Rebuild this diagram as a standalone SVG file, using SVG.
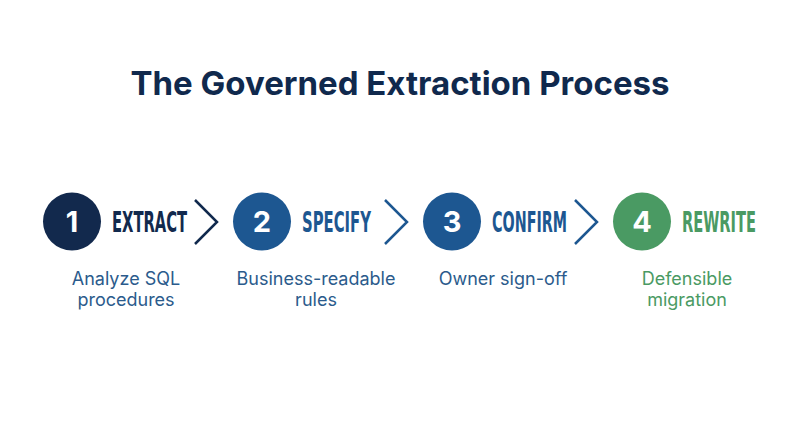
<svg xmlns="http://www.w3.org/2000/svg" width="800" height="445" viewBox="0 0 800 445">
<style>
.title{font-family:Inter,"Open Sans","Liberation Sans",sans-serif;font-weight:700;font-size:33px;fill:#10294d;text-anchor:middle}
.num{font-family:Inter,"Liberation Sans",sans-serif;font-weight:700;font-size:29px;fill:#ffffff;text-anchor:middle}
.lbl{font-family:"DejaVu Sans Condensed","Liberation Sans",sans-serif;font-stretch:condensed;font-weight:700;font-size:22px}
.sub{font-family:Inter,"Liberation Sans",sans-serif;font-size:18px;text-anchor:middle}
.chev{fill:none;stroke:#10294d;stroke-width:2.5}
.chevb{stroke:#1d5791}
.navy{fill:#12294d}
.blue{fill:#1d5791}
.green{fill:#4a9a63}
.subblue{fill:#2b5b8c}
</style>
<rect width="800" height="445" fill="#ffffff"/>
<text class="title" x="400" y="95">The Governed Extraction Process</text>
<g id="connectors">
<polyline class="chev" points="195,200 217,222 195,244"/>
<polyline class="chev chevb" points="385,200 407,222 385,244"/>
<polyline class="chev chevb" points="575,200 597,222 575,244"/>
</g>
<g id="step1">
<circle class="navy" cx="72" cy="221.5" r="29"/>
<text class="num" x="72" y="232">1</text>
<text class="lbl navy" transform="translate(112,231.5) scale(1,1.27)" textLength="75" lengthAdjust="spacingAndGlyphs">EXTRACT</text>
<text class="sub subblue" x="126" y="285">Analyze SQL</text>
<text class="sub subblue" x="126" y="306">procedures</text>
</g>
<g id="step2">
<circle class="blue" cx="262" cy="221.5" r="29"/>
<text class="num" x="262" y="232">2</text>
<text class="lbl blue" transform="translate(302,231.5) scale(1,1.27)" textLength="69" lengthAdjust="spacingAndGlyphs">SPECIFY</text>
<text class="sub subblue" x="316" y="285">Business-readable</text>
<text class="sub subblue" x="316" y="306">rules</text>
</g>
<g id="step3">
<circle class="blue" cx="452" cy="221.5" r="29"/>
<text class="num" x="452" y="232">3</text>
<text class="lbl blue" transform="translate(492,231.5) scale(1,1.27)" textLength="75" lengthAdjust="spacingAndGlyphs">CONFIRM</text>
<text class="sub subblue" x="503" y="285">Owner sign-off</text>
</g>
<g id="step4">
<circle class="green" cx="642" cy="221.5" r="29"/>
<text class="num" x="642" y="232">4</text>
<text class="lbl green" transform="translate(682,231.5) scale(1,1.27)" textLength="74" lengthAdjust="spacingAndGlyphs">REWRITE</text>
<text class="sub green" x="687" y="285">Defensible</text>
<text class="sub green" x="687" y="306">migration</text>
</g>
</svg>
